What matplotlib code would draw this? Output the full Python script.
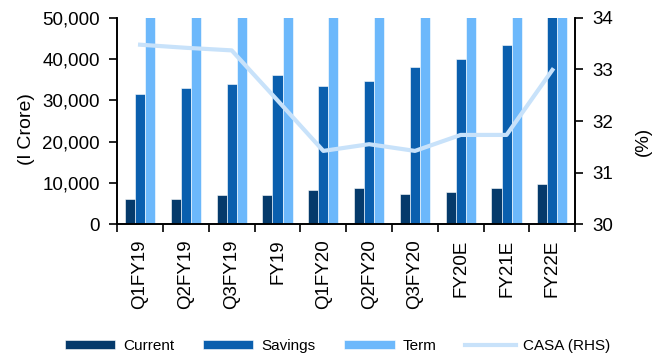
import numpy as np
import matplotlib.pyplot as plt
from matplotlib.ticker import FuncFormatter

plt.rcParams['font.family'] = ['Liberation Sans', 'DejaVu Sans']

# Donnees
periods = ['Q1FY19', 'Q2FY19', 'Q3FY19', 'FY19', 'Q1FY20', 'Q2FY20',
           'Q3FY20', 'FY20E', 'FY21E', 'FY22E']
current = [6000, 6000, 7000, 7000, 8300, 8700, 7300, 7800, 8700, 9800]
savings = [31500, 33000, 34000, 36200, 33400, 34800, 38100, 40000, 43500, 52000]
term = [85000, 88000, 90000, 95000, 97000, 99000, 101000, 110000, 125000, 140000]
casa = [33.48, 33.42, 33.37, 32.4, 31.42, 31.55, 31.42, 31.73, 31.73, 32.99]

c_cur = '#053a6b'
c_sav = '#0a5fae'
c_term = '#6cb8fb'
c_casa = '#c8e2fa'
fs = 13.5

fig = plt.figure(figsize=(6.62, 3.58), dpi=100)
ax = fig.add_axes([0.177, 0.374, 0.692, 0.576])
ax2 = ax.twinx()

x = np.arange(len(periods))
w = 0.22
b1 = ax.bar(x - w, current, w, color=c_cur, edgecolor='white', linewidth=0.4, label='Current')
b2 = ax.bar(x, savings, w, color=c_sav, edgecolor='white', linewidth=0.4, label='Savings')
b3 = ax.bar(x + w, term, w, color=c_term, edgecolor='white', linewidth=0.4, label='Term')
l1, = ax2.plot(x, casa, color=c_casa, linewidth=3, label='CASA (RHS)')

ax.set_xlim(-0.5, len(periods) - 0.5)
ax.set_ylim(0, 50000)
ax.set_yticks(np.arange(0, 50001, 10000))
ax.yaxis.set_major_formatter(FuncFormatter(lambda v, p: '{:,.0f}'.format(v)))
ax2.set_ylim(30, 34)
ax2.set_yticks([30, 31, 32, 33, 34])

# ticks aux frontieres des categories, etiquettes au centre
ax.set_xticks(np.arange(-0.5, len(periods), 1))
ax.set_xticklabels([])
ax.set_xticks(x, minor=True)
ax.set_xticklabels(periods, minor=True, rotation=90, fontsize=fs)
ax.tick_params(axis='x', which='minor', length=0, pad=11)
ax.tick_params(axis='x', which='major', length=5.5, width=1.2, direction='out')
ax.tick_params(axis='y', labelsize=fs, length=5.5, width=1.2, pad=7)
ax2.tick_params(axis='y', labelsize=fs, length=5.5, width=1.2, pad=7)

for a in (ax, ax2):
    a.spines['top'].set_visible(False)
    for s in ('left', 'right', 'bottom'):
        a.spines[s].set_linewidth(1.2)

ax.set_ylabel('(l Crore)', fontsize=fs + 0.5)
ax.yaxis.set_label_coords(-0.18, 0.46)
ax2.set_ylabel('(%)', fontsize=fs)
ax2.yaxis.set_label_coords(1.13, 0.40)

fig.legend([b1, b2, b3, l1], ['Current', 'Savings', 'Term', 'CASA (RHS)'],
           loc='lower center', bbox_to_anchor=(0.51, -0.025), ncol=4, frameon=False,
           fontsize=11, handlelength=3.3, handleheight=0.5, columnspacing=1.9,
           handletextpad=0.5)

fig.savefig('out.png', dpi=100)
